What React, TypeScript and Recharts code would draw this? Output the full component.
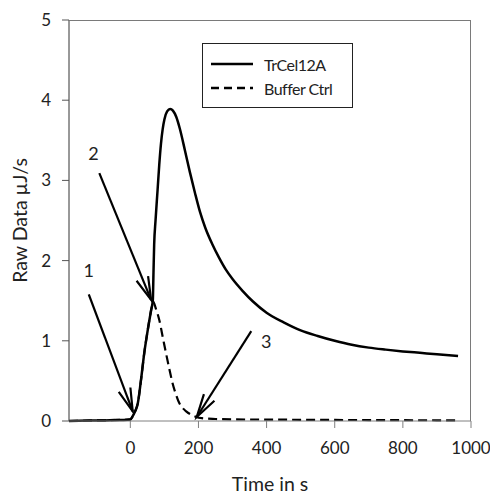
import React from 'react';
import { LineChart, Line, XAxis, YAxis, ReferenceLine, ReferenceDot, Legend } from 'recharts';

const enzymeTime = [-180, -120, -60, 0, 7, 14, 22, 31, 41, 51, 61, 66, 68, 70, 74, 80, 85, 90, 95, 100, 108, 117, 125, 135, 145, 160, 175, 190, 205, 220, 240, 260, 280, 300, 330, 360, 400, 450, 500, 550, 600, 650, 700, 750, 800, 850, 900, 962];
const enzymeRate = [0.0, 0.005, 0.01, 0.02, 0.06, 0.12, 0.22, 0.5, 0.85, 1.13, 1.38, 1.5, 1.85, 2.2, 2.5, 2.88, 3.2, 3.46, 3.64, 3.76, 3.86, 3.89, 3.87, 3.79, 3.65, 3.38, 3.1, 2.84, 2.6, 2.41, 2.21, 2.04, 1.89, 1.77, 1.62, 1.49, 1.35, 1.23, 1.13, 1.06, 1.0, 0.95, 0.915, 0.89, 0.868, 0.85, 0.832, 0.81];

const bufferTime = [-180, -120, -60, 0, 7, 14, 22, 31, 41, 51, 61, 67, 75, 85, 95, 105, 115, 124, 134, 144, 154, 164, 178, 193, 210, 250, 300, 400, 500, 600, 700, 800, 900, 962];
const bufferRate = [0.0, 0.005, 0.01, 0.02, 0.06, 0.12, 0.22, 0.5, 0.85, 1.13, 1.38, 1.49, 1.4, 1.26, 1.05, 0.84, 0.64, 0.47, 0.33, 0.22, 0.16, 0.12, 0.08, 0.05, 0.035, 0.025, 0.02, 0.018, 0.015, 0.013, 0.012, 0.01, 0.009, 0.008];

const xDomain = [-180, 1000];
const yDomain = [0, 5];
const xTicks = [0, 200, 400, 600, 800, 1000];
const yTicks = [0, 1, 2, 3, 4, 5];

const arrowFromTime = [-122, -91, 355];
const arrowFromRate = [1.58, 3.09, 1.12];
const arrowToTime = [7, 61, 195];
const arrowToRate = [0.12, 1.51, 0.05];
const arrowLabels = ['1', '2', '3'];
const labelTime = [-122, -108, 399];
const labelRate = [1.88, 3.34, 0.99];

const seriesNames = ['TrCel12A', 'Buffer Ctrl'];

const enzymeData = enzymeTime.map((t, i) => ({ t, v: enzymeRate[i] }));
const bufferData = bufferTime.map((t, i) => ({ t, v: bufferRate[i] }));

const FONT = 'Lato, "Open Sans", sans-serif';
const TEXT = '#222';
const AXIS = '#808080';
const FRAME = '#7a7a7a';

const CHART_W = 490;
const CHART_H = 494;
const MARGIN = { top: 20, right: 19, left: 0, bottom: 0 };
const Y_AXIS_W = 69;
const X_AXIS_H = 73;

const ArrowShape = (props: any) => {
  const { x1, y1, x2, y2 } = props;
  if ([x1, y1, x2, y2].some((n) => typeof n !== 'number' || isNaN(n))) return null;
  const a = Math.atan2(y2 - y1, x2 - x1);
  const L = 24;
  const s = (15 * Math.PI) / 180;
  const p1 = [x2 - L * Math.cos(a - s), y2 - L * Math.sin(a - s)];
  const p2 = [x2 - L * Math.cos(a + s), y2 - L * Math.sin(a + s)];
  return (
    <g>
      <line x1={x1} y1={y1} x2={x2} y2={y2} stroke="#000" strokeWidth={2.2} />
      <polyline
        points={`${p1[0]},${p1[1]} ${x2},${y2} ${p2[0]},${p2[1]}`}
        fill="none"
        stroke="#000"
        strokeWidth={2.2}
      />
    </g>
  );
};

const LegendBox = () => (
  <div
    style={{
      border: '1px solid #222',
      background: '#fff',
      width: 151,
      height: 65,
      boxSizing: 'border-box',
      fontFamily: FONT,
      fontSize: 16,
      letterSpacing: -0.5,
      color: TEXT,
      paddingTop: 8,
    }}
  >
    {seriesNames.map((name, i) => (
      <div key={name} style={{ display: 'flex', alignItems: 'center', height: 24, paddingLeft: 8 }}>
        <svg width={42} height={6} style={{ marginRight: 11 }}>
          <line
            x1={0}
            y1={3}
            x2={42}
            y2={3}
            stroke="#000"
            strokeWidth={2.5}
            strokeDasharray={i === 1 ? '8 5' : undefined}
          />
        </svg>
        <span>{name}</span>
      </div>
    ))}
  </div>
);

export default function App() {
  const plotLeft = MARGIN.left + Y_AXIS_W;
  const plotTop = MARGIN.top;
  const plotW = CHART_W - MARGIN.right - plotLeft;
  const plotH = CHART_H - MARGIN.bottom - X_AXIS_H - plotTop;
  return (
    <div style={{ position: 'absolute', left: 0, top: 0, width: CHART_W, height: CHART_H, background: '#fff' }}>
      <LineChart width={CHART_W} height={CHART_H} margin={MARGIN}>
        <XAxis
          dataKey="t"
          type="number"
          domain={xDomain}
          ticks={xTicks}
          allowDataOverflow
          stroke={AXIS}
          tickSize={7}
          tickMargin={14}
          height={X_AXIS_H}
          tick={{ fill: TEXT, fontFamily: FONT, fontSize: 17 }}
          tickLine={{ stroke: AXIS }}
          label={{ value: 'Time in s', position: 'insideBottom', offset: 3, fill: TEXT, fontFamily: FONT, fontSize: 19.5 }}
        />
        <YAxis
          dataKey="v"
          type="number"
          domain={yDomain}
          ticks={yTicks}
          stroke="#333"
          width={Y_AXIS_W}
          tickSize={7}
          tickMargin={11}
          tick={{ fill: TEXT, fontFamily: FONT, fontSize: 17 }}
          tickLine={{ stroke: '#555' }}
          label={{ value: 'Raw Data \u00B5J/s', angle: -90, position: 'center', dx: -14, fill: TEXT, fontFamily: FONT, fontSize: 19.5 }}
        />
        <Line
          data={enzymeData}
          dataKey="v"
          name={seriesNames[0]}
          type="monotone"
          stroke="#000"
          strokeWidth={2.5}
          dot={false}
          isAnimationActive={false}
        />
        <Line
          data={bufferData}
          dataKey="v"
          name={seriesNames[1]}
          type="monotone"
          stroke="#000"
          strokeWidth={2.2}
          strokeDasharray="9 5"
          dot={false}
          isAnimationActive={false}
        />
        {arrowLabels.map((lab, i) => (
          <ReferenceLine
            key={'a' + lab}
            segment={[
              { x: arrowFromTime[i], y: arrowFromRate[i] },
              { x: arrowToTime[i], y: arrowToRate[i] },
            ]}
            ifOverflow="visible"
            shape={ArrowShape}
          />
        ))}
        {arrowLabels.map((lab, i) => (
          <ReferenceDot
            key={'l' + lab}
            x={labelTime[i]}
            y={labelRate[i]}
            r={0}
            fill="none"
            stroke="none"
            ifOverflow="visible"
            label={{ value: lab, position: 'center', fill: TEXT, fontFamily: FONT, fontSize: 18 }}
          />
        ))}
        <Legend
          layout="horizontal"
          verticalAlign="middle"
          align="center"
          wrapperStyle={{ left: 202, top: 43, width: 151, height: 65 }}
          content={() => <LegendBox />}
        />
      </LineChart>
      <div
        style={{
          position: 'absolute',
          left: plotLeft,
          top: plotTop,
          width: plotW,
          height: plotH,
          boxSizing: 'border-box',
          borderTop: `1px solid ${FRAME}`,
          borderRight: `1px solid ${FRAME}`,
          pointerEvents: 'none',
          zIndex: 5,
        }}
      />
    </div>
  );
}
